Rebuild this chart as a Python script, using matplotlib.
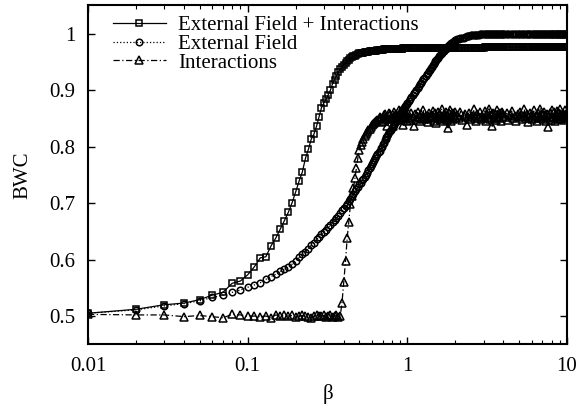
import matplotlib
matplotlib.use("Agg")
import matplotlib.pyplot as plt
from matplotlib.ticker import FixedLocator, NullFormatter, LogLocator

plt.rcParams["font.family"] = ["Liberation Serif", "DejaVu Serif"]

# --- data ---
beta = [
    0.01, 0.02, 0.03, 0.04, 0.05, 0.06, 0.07, 0.08, 0.09, 0.10,
    0.11, 0.12, 0.13, 0.14, 0.15, 0.16, 0.17, 0.18, 0.19, 0.20,
    0.21, 0.22, 0.23, 0.24, 0.25, 0.26, 0.27, 0.28, 0.29, 0.30,
    0.31, 0.32, 0.33, 0.34, 0.35, 0.36, 0.37, 0.38, 0.39, 0.40,
    0.41, 0.42, 0.43, 0.44, 0.45, 0.46, 0.47, 0.48, 0.49, 0.50,
    0.51, 0.52, 0.53, 0.54, 0.55, 0.56, 0.57, 0.58, 0.59, 0.60,
    0.61, 0.62, 0.63, 0.64, 0.65, 0.66, 0.67, 0.68, 0.69, 0.70,
    0.71, 0.72, 0.73, 0.74, 0.75, 0.76, 0.77, 0.78, 0.79, 0.80,
    0.81, 0.82, 0.83, 0.84, 0.85, 0.86, 0.87, 0.88, 0.89, 0.90,
    0.91, 0.92, 0.93, 0.94, 0.95, 0.96, 0.97, 0.98, 0.99, 1.00,
    1.02, 1.04, 1.06, 1.08, 1.10, 1.12, 1.14, 1.16, 1.18, 1.20,
    1.22, 1.24, 1.26, 1.28, 1.30, 1.32, 1.34, 1.36, 1.38, 1.40,
    1.42, 1.44, 1.46, 1.48, 1.50, 1.52, 1.54, 1.56, 1.58, 1.60,
    1.62, 1.64, 1.66, 1.68, 1.70, 1.72, 1.74, 1.76, 1.78, 1.80,
    1.82, 1.84, 1.86, 1.88, 1.90, 1.92, 1.94, 1.96, 1.98, 2.00,
    2.05, 2.10, 2.15, 2.20, 2.25, 2.30, 2.35, 2.40, 2.45, 2.50,
    2.55, 2.60, 2.65, 2.70, 2.75, 2.80, 2.85, 2.90, 2.95, 3.00,
    3.05, 3.10, 3.15, 3.20, 3.25, 3.30, 3.35, 3.40, 3.45, 3.50,
    3.55, 3.60, 3.65, 3.70, 3.75, 3.80, 3.85, 3.90, 3.95, 4.00,
    4.1, 4.2, 4.3, 4.4, 4.5, 4.6, 4.7, 4.8, 4.9, 5.0,
    5.1, 5.2, 5.3, 5.4, 5.5, 5.6, 5.7, 5.8, 5.9, 6.0,
    6.1, 6.2, 6.3, 6.4, 6.5, 6.6, 6.7, 6.8, 6.9, 7.0,
    7.1, 7.2, 7.3, 7.4, 7.5, 7.6, 7.7, 7.8, 7.9, 8.0,
    8.1, 8.2, 8.3, 8.4, 8.5, 8.6, 8.7, 8.8, 8.9, 9.0,
    9.1, 9.2, 9.3, 9.4, 9.5, 9.6, 9.7, 9.8, 9.9, 10.0,
]

bwc_field_inter = [
    0.505, 0.512, 0.520, 0.523, 0.529, 0.537, 0.542, 0.558, 0.562, 0.573,
    0.587, 0.603, 0.605, 0.624, 0.638, 0.654, 0.669, 0.684, 0.701, 0.720,
    0.739, 0.755, 0.779, 0.795, 0.813, 0.822, 0.836, 0.853, 0.869, 0.877,
    0.884, 0.892, 0.900, 0.911, 0.918, 0.925, 0.932, 0.937, 0.941, 0.945,
    0.948, 0.951, 0.953, 0.956, 0.958, 0.960, 0.961, 0.963, 0.964, 0.965,
    0.965, 0.966, 0.966, 0.967, 0.967, 0.968, 0.968, 0.969, 0.969, 0.970,
    0.970, 0.970, 0.970, 0.970, 0.971, 0.971, 0.971, 0.971, 0.971, 0.971,
    0.972, 0.972, 0.972, 0.972, 0.972, 0.972, 0.972, 0.972, 0.972, 0.972,
    0.973, 0.973, 0.973, 0.973, 0.973, 0.973, 0.973, 0.973, 0.973, 0.973,
    0.973, 0.973, 0.973, 0.974, 0.974, 0.974, 0.974, 0.974, 0.974, 0.974,
    0.974, 0.974, 0.974, 0.974, 0.974, 0.974, 0.974, 0.974, 0.974, 0.974,
    0.974, 0.974, 0.974, 0.974, 0.974, 0.975, 0.975, 0.975, 0.975, 0.975,
    0.975, 0.975, 0.975, 0.975, 0.975, 0.975, 0.975, 0.975, 0.975, 0.975,
    0.975, 0.975, 0.975, 0.975, 0.975, 0.975, 0.975, 0.975, 0.975, 0.975,
    0.975, 0.975, 0.975, 0.975, 0.975, 0.975, 0.975, 0.975, 0.975, 0.975,
    0.975, 0.975, 0.975, 0.975, 0.975, 0.975, 0.975, 0.975, 0.975, 0.975,
    0.975, 0.975, 0.975, 0.975, 0.975, 0.975, 0.975, 0.975, 0.975, 0.975,
    0.976, 0.976, 0.976, 0.976, 0.976, 0.976, 0.976, 0.976, 0.976, 0.976,
    0.976, 0.976, 0.976, 0.976, 0.976, 0.976, 0.976, 0.976, 0.976, 0.976,
    0.976, 0.976, 0.976, 0.976, 0.976, 0.976, 0.976, 0.976, 0.976, 0.976,
    0.976, 0.976, 0.976, 0.976, 0.976, 0.976, 0.976, 0.976, 0.976, 0.976,
    0.976, 0.976, 0.976, 0.976, 0.976, 0.976, 0.976, 0.976, 0.976, 0.976,
    0.976, 0.976, 0.976, 0.976, 0.976, 0.976, 0.976, 0.976, 0.976, 0.976,
    0.976, 0.976, 0.976, 0.976, 0.976, 0.976, 0.976, 0.976, 0.976, 0.976,
    0.976, 0.976, 0.976, 0.976, 0.976, 0.976, 0.976, 0.976, 0.976, 0.976,
]

bwc_field = [
    0.505, 0.511, 0.518, 0.522, 0.527, 0.533, 0.537, 0.542, 0.546, 0.551,
    0.555, 0.559, 0.565, 0.570, 0.574, 0.579, 0.583, 0.587, 0.592, 0.598,
    0.604, 0.609, 0.614, 0.619, 0.625, 0.630, 0.636, 0.640, 0.645, 0.649,
    0.653, 0.657, 0.661, 0.666, 0.670, 0.674, 0.678, 0.683, 0.687, 0.691,
    0.695, 0.699, 0.704, 0.708, 0.712, 0.716, 0.721, 0.725, 0.729, 0.733,
    0.736, 0.740, 0.743, 0.747, 0.750, 0.754, 0.758, 0.762, 0.765, 0.769,
    0.772, 0.776, 0.779, 0.783, 0.786, 0.790, 0.793, 0.797, 0.800, 0.804,
    0.807, 0.811, 0.814, 0.817, 0.819, 0.822, 0.825, 0.828, 0.830, 0.833,
    0.835, 0.838, 0.840, 0.843, 0.845, 0.848, 0.850, 0.853, 0.855, 0.858,
    0.860, 0.862, 0.864, 0.866, 0.868, 0.870, 0.872, 0.874, 0.876, 0.878,
    0.881, 0.884, 0.888, 0.891, 0.894, 0.897, 0.900, 0.904, 0.907, 0.910,
    0.913, 0.916, 0.919, 0.922, 0.925, 0.928, 0.931, 0.933, 0.936, 0.939,
    0.941, 0.944, 0.946, 0.949, 0.951, 0.953, 0.955, 0.957, 0.960, 0.962,
    0.964, 0.965, 0.967, 0.969, 0.970, 0.972, 0.973, 0.975, 0.976, 0.978,
    0.979, 0.980, 0.982, 0.983, 0.984, 0.985, 0.986, 0.987, 0.987, 0.988,
    0.990, 0.991, 0.992, 0.993, 0.993, 0.994, 0.995, 0.996, 0.996, 0.997,
    0.997, 0.997, 0.998, 0.998, 0.998, 0.998, 0.999, 0.999, 0.999, 0.999,
    1.000, 1.000, 1.000, 1.000, 1.000, 1.000, 1.000, 1.000, 1.000, 1.000,
    1.000, 1.000, 1.000, 1.000, 1.000, 1.000, 1.000, 1.000, 1.000, 1.000,
    1.000, 1.000, 1.000, 1.000, 1.000, 1.000, 1.000, 1.000, 1.000, 1.000,
    1.000, 1.000, 1.000, 1.000, 1.000, 1.000, 1.000, 1.000, 1.000, 1.000,
    1.000, 1.000, 1.000, 1.000, 1.000, 1.000, 1.000, 1.000, 1.000, 1.000,
    1.000, 1.000, 1.000, 1.000, 1.000, 1.000, 1.000, 1.000, 1.000, 1.000,
    1.000, 1.000, 1.000, 1.000, 1.000, 1.000, 1.000, 1.000, 1.000, 1.000,
    1.000, 1.000, 1.000, 1.000, 1.000, 1.000, 1.000, 1.000, 1.000, 1.000,
]

bwc_inter = [
    0.503, 0.502, 0.502, 0.499, 0.501, 0.499, 0.497, 0.503, 0.502, 0.500,
    0.500, 0.499, 0.500, 0.497, 0.502, 0.500, 0.501, 0.500, 0.501, 0.499,
    0.500, 0.501, 0.500, 0.499, 0.497, 0.500, 0.501, 0.500, 0.500, 0.501,
    0.499, 0.500, 0.502, 0.498, 0.500, 0.501, 0.499, 0.500, 0.524, 0.561,
    0.597, 0.638, 0.667, 0.698, 0.712, 0.726, 0.744, 0.762, 0.780, 0.794,
    0.802, 0.809, 0.814, 0.818, 0.822, 0.826, 0.829, 0.832, 0.835, 0.838,
    0.840, 0.842, 0.844, 0.845, 0.847, 0.848, 0.853, 0.851, 0.844, 0.846,
    0.856, 0.858, 0.849, 0.853, 0.837, 0.848, 0.860, 0.857, 0.852, 0.850,
    0.836, 0.862, 0.854, 0.845, 0.858, 0.855, 0.850, 0.849, 0.864, 0.860,
    0.847, 0.852, 0.857, 0.838, 0.853, 0.856, 0.861, 0.850, 0.846, 0.863,
    0.851, 0.847, 0.859, 0.853, 0.836, 0.857, 0.849, 0.862, 0.852, 0.845,
    0.858, 0.850, 0.865, 0.848, 0.855, 0.851, 0.843, 0.860, 0.853, 0.849,
    0.856, 0.863, 0.846, 0.852, 0.859, 0.841, 0.854, 0.861, 0.850, 0.857,
    0.848, 0.866, 0.853, 0.845, 0.858, 0.851, 0.862, 0.847, 0.855, 0.833,
    0.859, 0.850, 0.864, 0.846, 0.853, 0.860, 0.849, 0.856, 0.852, 0.861,
    0.856, 0.850, 0.862, 0.847, 0.855, 0.858, 0.838, 0.852, 0.860, 0.849,
    0.854, 0.866, 0.851, 0.846, 0.857, 0.853, 0.861, 0.848, 0.855, 0.850,
    0.863, 0.845, 0.858, 0.852, 0.867, 0.849, 0.856, 0.836, 0.860, 0.851,
    0.857, 0.847, 0.864, 0.853, 0.850, 0.859, 0.846, 0.862, 0.854, 0.858,
    0.852, 0.859, 0.847, 0.856, 0.863, 0.850, 0.854, 0.845, 0.858, 0.852,
    0.861, 0.849, 0.855, 0.866, 0.851, 0.857, 0.843, 0.853, 0.860, 0.848,
    0.856, 0.864, 0.850, 0.855, 0.846, 0.859, 0.853, 0.867, 0.851, 0.857,
    0.849, 0.862, 0.854, 0.845, 0.858, 0.835, 0.852, 0.860, 0.847, 0.865,
    0.853, 0.850, 0.861, 0.846, 0.857, 0.855, 0.863, 0.848, 0.859, 0.851,
    0.866, 0.849, 0.856, 0.852, 0.860, 0.847, 0.864, 0.854, 0.858, 0.850,
]

x_ticks = [0.01, 0.1, 1, 10]
x_tick_labels = ["0.01", "0.1", "1", "10"]
y_ticks = [0.5, 0.6, 0.7, 0.8, 0.9, 1.0]
y_tick_labels = ["0.5", "0.6", "0.7", "0.8", "0.9", "1"]

FS = 15

fig = plt.figure(figsize=(5.78, 4.12), dpi=100)
ax = fig.add_axes([0.1522, 0.1643, 0.8288, 0.8227])

ax.plot(beta, bwc_field_inter, color="black", linestyle="-", linewidth=0.9,
        marker="s", markersize=4.9, markerfacecolor="none", markeredgewidth=1.1,
        label="External Field + Interactions")
ax.plot(beta, bwc_field, color="black", linestyle=":", linewidth=0.9,
        marker="o", markersize=4.7, markerfacecolor="none", markeredgewidth=1.1,
        label="External Field")
ax.plot(beta, bwc_inter, color="black", linestyle=(0, (5, 2, 1, 2)), linewidth=0.9,
        marker="^", markersize=5.3, markerfacecolor="none", markeredgewidth=1.1,
        label="Interactions")

ax.set_xscale("log")
ax.set_xlim(0.01, 10)
ax.set_ylim(0.45, 1.05)
ax.xaxis.set_major_locator(FixedLocator(x_ticks))
ax.set_xticklabels(x_tick_labels)
ax.xaxis.set_minor_locator(LogLocator(base=10, subs=range(2, 10)))
ax.xaxis.set_minor_formatter(NullFormatter())
ax.set_yticks(y_ticks)
ax.set_yticklabels(y_tick_labels)

ax.tick_params(which="both", direction="in", top=True, right=True,
               labelsize=FS, pad=9, color="black")
ax.tick_params(which="major", length=5, width=1.0)
ax.tick_params(which="minor", length=3, width=0.8)
for s in ax.spines.values():
    s.set_linewidth(1.5)

ax.set_xlabel("β", fontsize=FS, labelpad=6)
ax.set_ylabel("BWC", fontsize=FS, labelpad=12)

ax.legend(loc="upper left", bbox_to_anchor=(0.047, 0.975), frameon=False,
          fontsize=FS, handlelength=2.55, handletextpad=0.58,
          labelspacing=-0.05, borderaxespad=0.1, borderpad=0.0)

fig.savefig("out.png", dpi=100)
